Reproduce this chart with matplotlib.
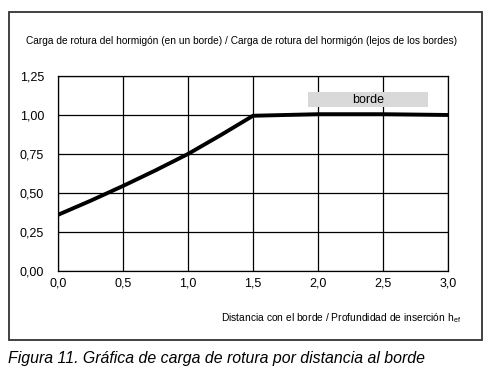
import matplotlib.pyplot as plt
from matplotlib.patches import Rectangle

plt.rcParams['font.family'] = ['Liberation Sans', 'DejaVu Sans']

# relacion distancia al borde / profundidad de insercion
dist = [0.0, 0.25, 0.5, 0.75, 1.0, 1.25, 1.5, 2.0, 2.5, 3.0]
carga = [0.36, 0.45, 0.545, 0.645, 0.75, 0.87, 0.995, 1.005, 1.005, 1.0]

xticks = [0.0, 0.5, 1.0, 1.5, 2.0, 2.5, 3.0]
yticks = [0.0, 0.25, 0.5, 0.75, 1.0, 1.25]
xlabels = ['0,0', '0,5', '1,0', '1,5', '2,0', '2,5', '3,0']
ylabels = ['0,00', '0,25', '0,50', '0,75', '1,00', '1,25']

fig = plt.figure(figsize=(4.97, 3.78), dpi=100)
ax = fig.add_axes([0.1167, 0.2831, 0.7847, 0.5159])

# marco exterior
fig.patches.append(Rectangle((9 / 497, 1 - 340 / 378), 473 / 497, 328 / 378,
                             transform=fig.transFigure, fill=False,
                             edgecolor='#333333', linewidth=1.3))

ax.plot(dist, carga, color='black', linewidth=2.8, solid_capstyle='butt')

ax.set_xlim(0, 3)
ax.set_ylim(0, 1.25)
ax.set_xticks(xticks)
ax.set_xticklabels(xlabels)
ax.set_yticks(yticks)
ax.set_yticklabels(ylabels)
ax.grid(True, color='black', linewidth=0.9)
ax.tick_params(length=0, labelsize=9)
ax.tick_params(axis='x', pad=5)
ax.tick_params(axis='y', pad=10)
for s in ax.spines.values():
    s.set_linewidth(0.9)

# caja "borde"
ax.add_patch(Rectangle((1.92, 1.05), 0.93, 0.097, facecolor='#d9d9d9',
                       edgecolor='none', zorder=3))
ax.text(2.385, 1.098, 'borde', ha='center', va='center', fontsize=9, zorder=4)

fig.text(242 / 497, 1 - 41 / 378,
         'Carga de rotura del hormigón (en un borde) / Carga de rotura del hormigón (lejos de los bordes)',
         ha='center', va='center', fontsize=7.3)
fig.text(461 / 497, 1 - 318 / 378,
         'Distancia con el borde / Profundidad de inserción h$_{\\mathregular{ef}}$',
         ha='right', va='center', fontsize=7.4)
fig.text(8 / 497, 1 - 359 / 378,
         'Figura 11. Gráfica de carga de rotura por distancia al borde',
         ha='left', va='center', fontsize=11.4, style='italic')

plt.savefig('out.png', dpi=100)
